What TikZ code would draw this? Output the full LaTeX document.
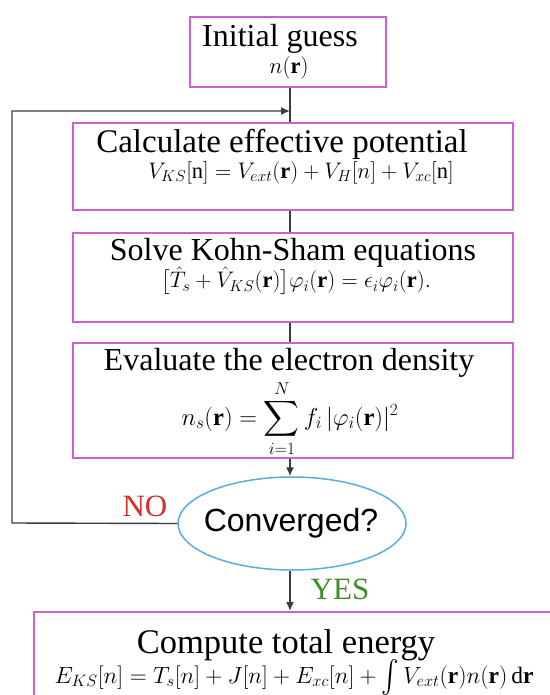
\documentclass[tikz,border=0pt]{standalone}
\usepackage{amsmath}
\usepackage{fix-cm}
\usepackage{fontspec}
\setmainfont{Liberation Serif}
\newfontfamily\convfont{Liberation Sans}
\usetikzlibrary{shapes.geometric,arrows.meta}
\definecolor{boxpink}{RGB}{206,96,210}
\definecolor{ellblue}{RGB}{90,172,225}
\definecolor{linegray}{RGB}{60,60,60}
\definecolor{nored}{RGB}{215,45,45}
\definecolor{yesgreen}{RGB}{60,140,40}
\newcommand{\midint}{\mathop{\vcenter{\hbox{\scalebox{1.05}[1.3]{$\textstyle\int$}}}}\nolimits}
\tikzset{
  box/.style={draw=boxpink, line width=1.8pt, fill=white, rectangle, inner sep=0pt},
  title/.style={inner sep=0pt, text depth=0pt, font=\fontsize{32}{34}\selectfont},
  eq/.style={inner sep=0pt, font=\fontsize{22.5}{24}\selectfont},
  conn/.style={draw=linegray, line width=1.4pt},
  arr/.style={conn, -{Latex[length=9pt,width=8pt]}},
  decision/.style={draw=ellblue, line width=1.5pt, fill=white, ellipse, inner sep=0pt,
    minimum width=228pt, minimum height=93pt},
  lbl/.style={inner sep=0pt, text depth=0pt, font=\fontsize{31}{33}\selectfont},
}
\begin{document}
\begin{tikzpicture}[x=1pt,y=-1pt]
\useasboundingbox (0,0) rectangle (549,695);
% boxes
\node[box, minimum width=196pt, minimum height=70pt] (init) at (288,52) {};
\node[box, minimum width=440pt, minimum height=87pt] (calc) at (293,166.5) {};
\node[box, minimum width=440pt, minimum height=89pt] (solve) at (293,277.5) {};
\node[box, minimum width=440pt, minimum height=115pt] (dens) at (293,400.5) {};
\node[decision] (conv) at (292,523.5) {};
\node[box, anchor=north west, minimum width=540pt, minimum height=110pt] (comp) at (33,611) {};
% texts
\node[title] (initt) at (280,35.5) {Initial guess};
\node[eq] (inite) at (289,68) {$n(\mathbf{r})$};
\node[title, font=\fontsize{33}{35}\selectfont] (calct) at (282,140.5) {Calculate effective potential};
\node[eq] (calce) at (301,173) {$V_{KS}[\mathrm{n}]=V_{ext}(\mathbf{r})+V_H[n]+V_{xc}[\mathrm{n}]$};
\node[title] (solvet) at (293,249.5) {Solve Kohn-Sham equations};
\node[eq] (solvee) at (296,281) {$\big[\hat{T}_s+\hat{V}_{KS}(\mathbf{r})\big]\varphi_i(\mathbf{r})=\epsilon_i\varphi_i(\mathbf{r}).$};
\node[title] (denst) at (289,359.5) {Evaluate the electron density};
\node[eq, font=\fontsize{24.5}{26}\selectfont] (dense) at (290,418.5) {$\displaystyle n_s(\mathbf{r})=\sum_{i=1}^{N} f_i\,|\varphi_i(\mathbf{r})|^2$};
\node[inner sep=0pt, font=\convfont\fontsize{32}{34}\selectfont] (convt) at (291,523) {Converged?};
\node[title, font=\fontsize{34.5}{36}\selectfont] (compt) at (286,642) {Compute total energy};
\node[eq, font=\fontsize{23.5}{25}\selectfont, text height=8pt, text depth=4pt] (compe) at (294,681) {$E_{KS}[n]=T_s[n]+J[n]+E_{xc}[n]+\midint V_{ext}(\mathbf{r})n(\mathbf{r})\,\mathrm{d}\mathbf{r}$};
\node[lbl, text=nored] (no) at (145,506) {NO};
\node[lbl, text=yesgreen] (yes) at (340,589) {YES};
% connectors
\coordinate (join) at (290,111);
\coordinate (loopcorner) at (12,523);
\coordinate (loopTop) at (12,111);
\draw[conn] (init.south -| join) -- (calc.north -| join);
\draw[conn] (calc.south -| join) -- (solve.north -| join);
\draw[conn] (solve.south -| join) -- (dens.north -| join);
\draw[arr] (dens.south -| join) -- (conv.north -| join);
\draw[arr] (conv.south -| join) -- (comp.north -| join);
\draw[arr] (conv.west) -- (loopcorner) -- (loopTop) -- (join);
\end{tikzpicture}
\end{document}
